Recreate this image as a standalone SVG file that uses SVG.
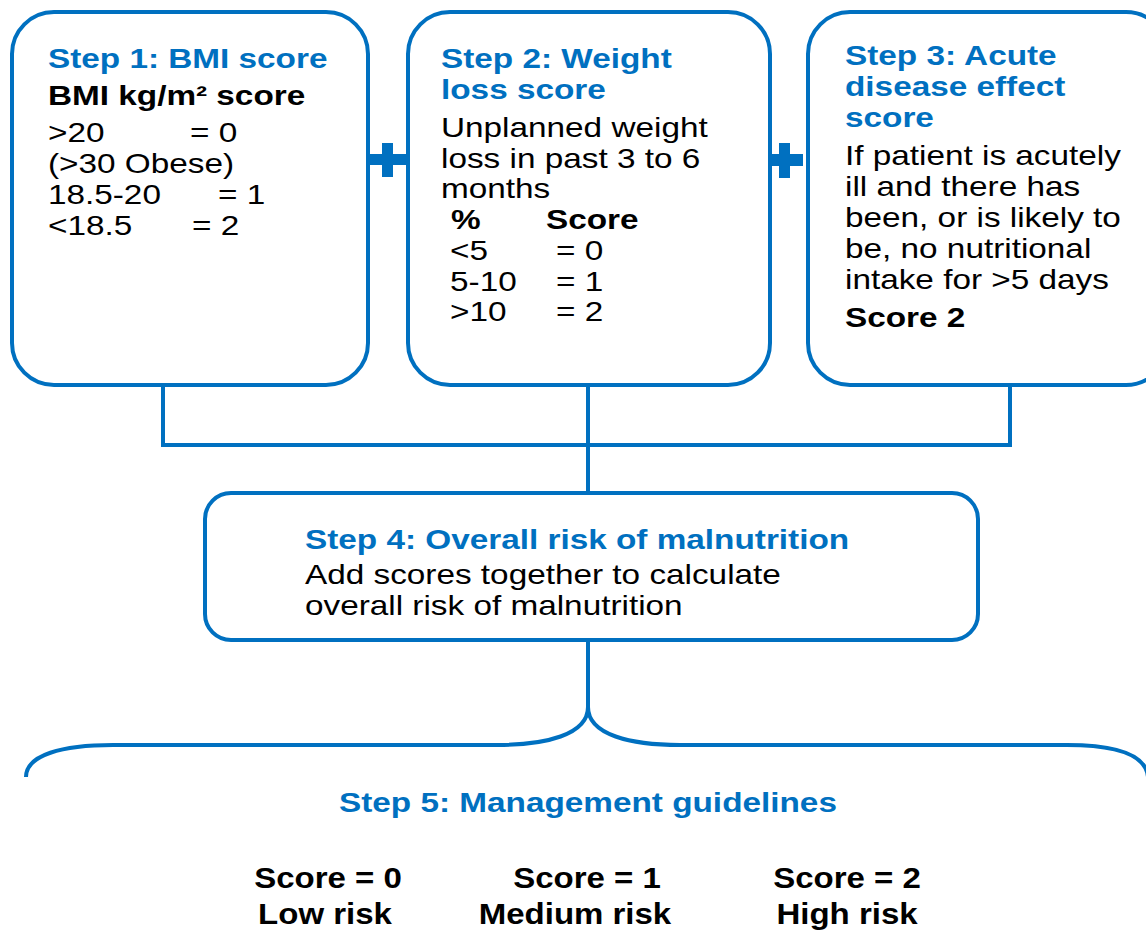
<svg xmlns="http://www.w3.org/2000/svg" width="1146" height="931" viewBox="0 0 1146 931">
<style>
.box{fill:#fff;stroke:#0070c0;stroke-width:4}
.con{fill:none;stroke:#0070c0;stroke-width:4}
.plus{fill:#0070c0}
text{font-family:"Liberation Sans",Arial,sans-serif;font-size:28px}
.h{fill:#0070c0;font-weight:bold}
.b{fill:#000;font-weight:bold}
.r{fill:#000}
.f{font-family:"Liberation Sans",Arial,sans-serif;font-size:30px;font-weight:bold;fill:#000;text-anchor:middle}
</style>
<g id="connectors">
<path class="con" d="M163,385 V445 H1010 V385"/>
<path class="con" d="M588,385 V493"/>
<path class="con" d="M588,640 V707"/>
<path class="con" d="M588,707 C588,735 545,745 497,745 H113 C62,745 26,755 26,777"/>
<path class="con" d="M588,707 C588,735 631,745 680,745 H1067 C1118,745 1146,755 1148,777"/>
</g>
<g id="step1">
<rect class="box" x="12" y="12" width="356" height="373" rx="42" ry="42"/>
</g>
<g id="step2">
<rect class="box" x="408" y="12" width="362" height="373" rx="42" ry="42"/>
</g>
<g id="step3">
<rect class="box" x="808" y="12" width="360" height="373" rx="42" ry="42"/>
</g>
<g id="plus1">
<rect class="plus" x="368" y="154" width="40" height="11"/>
<rect class="plus" x="382" y="143" width="11" height="34"/>
</g>
<g id="plus2">
<rect class="plus" x="770" y="154" width="33" height="12"/>
<rect class="plus" x="779" y="143" width="11" height="35"/>
</g>
<g id="step4">
<rect class="box" x="205" y="493" width="773" height="147" rx="26" ry="26"/>
</g>
<g id="texts" transform="scale(1.19,1)">
<g id="step1-text">
<text class="h" x="40.3" y="68">Step 1: BMI score</text>
<text class="b" x="40.3" y="105">BMI kg/m² score</text>
<text class="r" x="40.3" y="142">&gt;20</text>
<text class="r" x="159.7" y="142">= 0</text>
<text class="r" x="40.3" y="173">(&gt;30 Obese)</text>
<text class="r" x="40.3" y="204">18.5-20</text>
<text class="r" x="183.2" y="204">= 1</text>
<text class="r" x="40.3" y="235">&lt;18.5</text>
<text class="r" x="161.3" y="235">= 2</text>
</g>
<g id="step2-text">
<text class="h" x="370.6" y="68">Step 2: Weight</text>
<text class="h" x="370.6" y="99">loss score</text>
<text class="r" x="370.6" y="137">Unplanned weight</text>
<text class="r" x="370.6" y="168">loss in past 3 to 6</text>
<text class="r" x="370.6" y="198">months</text>
<text class="b" x="379" y="229">%</text>
<text class="b" x="458.8" y="229">Score</text>
<text class="r" x="378.2" y="260">&lt;5</text>
<text class="r" x="467.2" y="260">= 0</text>
<text class="r" x="378.2" y="291">5-10</text>
<text class="r" x="467.2" y="291">= 1</text>
<text class="r" x="378.2" y="321">&gt;10</text>
<text class="r" x="467.2" y="321">= 2</text>
</g>
<g id="step3-text">
<text class="h" x="710.1" y="65">Step 3: Acute</text>
<text class="h" x="710.1" y="96">disease effect</text>
<text class="h" x="710.1" y="127">score</text>
<text class="r" x="710.1" y="165">If patient is acutely</text>
<text class="r" x="710.1" y="196">ill and there has</text>
<text class="r" x="710.1" y="227">been, or is likely to</text>
<text class="r" x="710.1" y="258">be, no nutritional</text>
<text class="r" x="710.1" y="289">intake for &gt;5 days</text>
<text class="b" x="710.1" y="327">Score 2</text>
</g>
<g id="step4-text">
<text class="h" x="256.3" y="549">Step 4: Overall risk of malnutrition</text>
<text class="r" x="256.3" y="584">Add scores together to calculate</text>
<text class="r" x="256.3" y="615">overall risk of malnutrition</text>
</g>
<g id="step5-title">
<text class="h" x="494.1" y="812" text-anchor="middle">Step 5: Management guidelines</text>
</g>
</g>
<g id="step5">
<text class="f" transform="translate(328,888) scale(1.1,1)">Score = 0</text>
<text class="f" transform="translate(325,924) scale(1.1,1)">Low risk</text>
<text class="f" transform="translate(587,888) scale(1.1,1)">Score = 1</text>
<text class="f" transform="translate(575,924) scale(1.1,1)">Medium risk</text>
<text class="f" transform="translate(847,888) scale(1.1,1)">Score = 2</text>
<text class="f" transform="translate(847,924) scale(1.1,1)">High risk</text>
</g>
</svg>
